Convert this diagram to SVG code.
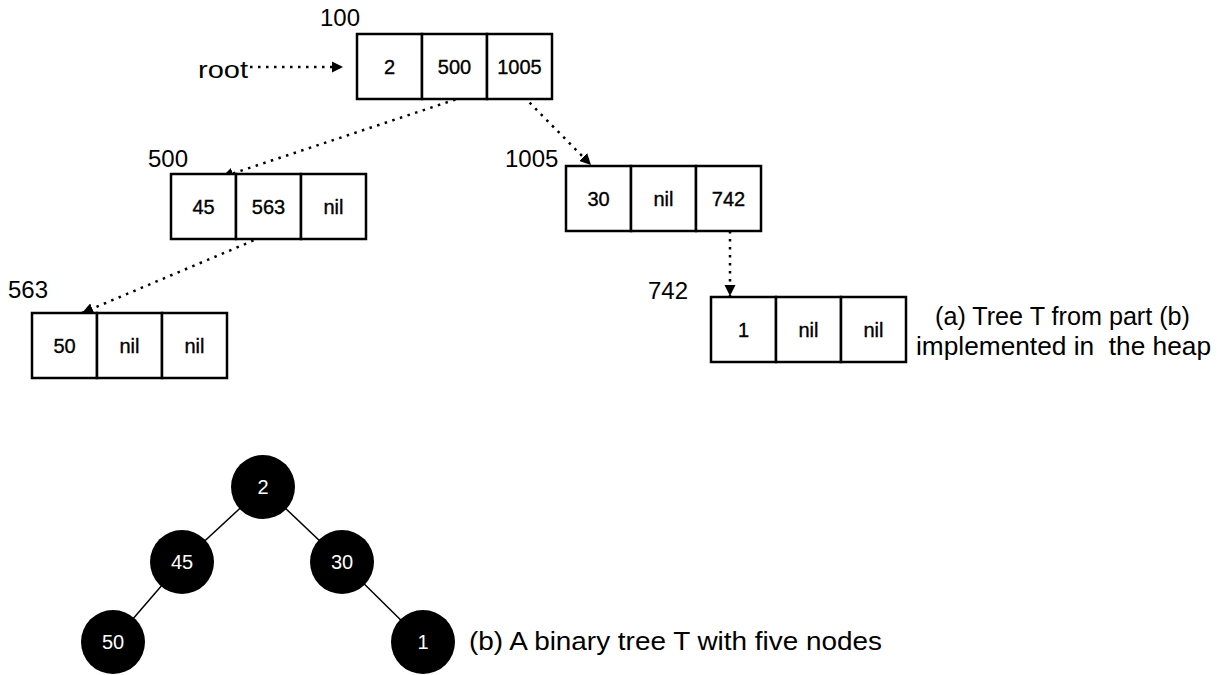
<svg xmlns="http://www.w3.org/2000/svg" width="1226" height="675" viewBox="0 0 1226 675">
<style>
.cell{fill:#fff;stroke:#000;stroke-width:2.5}
.ct{font-family:"Liberation Sans",Arial,sans-serif;font-size:20px;text-anchor:middle;dominant-baseline:central;fill:#000;stroke:#000;stroke-width:0.35}
.lbl{font-family:"Liberation Sans",Arial,sans-serif;font-size:24px;fill:#000}
.cap{font-family:"Liberation Sans",Arial,sans-serif;font-size:25px;fill:#000}
.dot{fill:none;stroke:#000;stroke-width:2.5;stroke-dasharray:2.5 5.5}
.edge{stroke:#000;stroke-width:1.5}
.circ{fill:#000}
.wt{font-family:"Liberation Sans",Arial,sans-serif;font-size:20px;fill:#fff;text-anchor:middle;dominant-baseline:central}
</style>
<defs>
<marker id="ah" viewBox="0 0 10 10" refX="10" refY="5" markerWidth="4.5" markerHeight="4.5" orient="auto" markerUnits="strokeWidth">
<path d="M0,0 L10,5 L0,10 z" fill="#000"/>
</marker>
</defs>
<rect width="1226" height="675" fill="#fff"/>

<g id="connectors">
<line class="dot" x1="250" y1="67" x2="343" y2="67" marker-end="url(#ah)"/>
<line class="dot" x1="463" y1="97" x2="222" y2="177" marker-end="url(#ah)"/>
<line class="dot" x1="524" y1="97" x2="591" y2="165" marker-end="url(#ah)"/>
<line class="dot" x1="283" y1="228" x2="82" y2="313" marker-end="url(#ah)"/>
<line class="dot" x1="730" y1="231" x2="730" y2="296" marker-end="url(#ah)"/>
<line class="edge" x1="263" y1="487" x2="182" y2="562"/>
<line class="edge" x1="263" y1="487" x2="342" y2="562"/>
<line class="edge" x1="182" y1="562" x2="113" y2="642"/>
<line class="edge" x1="342" y1="562" x2="423" y2="642"/>
</g>

<g id="root-label"><text class="lbl" x="198" y="78" font-size="26" textLength="50" lengthAdjust="spacingAndGlyphs">root</text></g>

<g id="node-100">
<text class="lbl" x="320" y="26">100</text>
<rect class="cell" x="357" y="34" width="65" height="65"/>
<rect class="cell" x="422" y="34" width="65" height="65"/>
<rect class="cell" x="487" y="34" width="65" height="65"/>
<text class="ct" x="389.5" y="66.5">2</text>
<text class="ct" x="454.5" y="66.5">500</text>
<text class="ct" x="519.5" y="66.5">1005</text>
</g>

<g id="node-500">
<text class="lbl" x="148" y="167">500</text>
<rect class="cell" x="171" y="174" width="65" height="65"/>
<rect class="cell" x="236" y="174" width="65" height="65"/>
<rect class="cell" x="301" y="174" width="65" height="65"/>
<text class="ct" x="203.5" y="206.5">45</text>
<text class="ct" x="268.5" y="206.5">563</text>
<text class="ct" x="333.5" y="206.5">nil</text>
</g>

<g id="node-563">
<text class="lbl" x="8" y="298">563</text>
<rect class="cell" x="32" y="313" width="65" height="65"/>
<rect class="cell" x="97" y="313" width="65" height="65"/>
<rect class="cell" x="162" y="313" width="65" height="65"/>
<text class="ct" x="64.5" y="345.5">50</text>
<text class="ct" x="129.5" y="345.5">nil</text>
<text class="ct" x="194.5" y="345.5">nil</text>
</g>

<g id="node-1005">
<text class="lbl" x="505" y="167">1005</text>
<rect class="cell" x="566" y="166" width="65" height="65"/>
<rect class="cell" x="631" y="166" width="65" height="65"/>
<rect class="cell" x="696" y="166" width="65" height="65"/>
<text class="ct" x="598.5" y="198.5">30</text>
<text class="ct" x="663.5" y="198.5">nil</text>
<text class="ct" x="728.5" y="198.5">742</text>
</g>

<g id="node-742">
<text class="lbl" x="648" y="299">742</text>
<rect class="cell" x="711" y="297" width="65" height="65"/>
<rect class="cell" x="776" y="297" width="65" height="65"/>
<rect class="cell" x="841" y="297" width="65" height="65"/>
<text class="ct" x="743.5" y="329.5">1</text>
<text class="ct" x="808.5" y="329.5">nil</text>
<text class="ct" x="873.5" y="329.5">nil</text>
</g>

<g id="caption-a">
<text class="cap" x="935" y="325" textLength="255" lengthAdjust="spacingAndGlyphs">(a) Tree T from part (b)</text>
<text class="cap" x="916" y="355" textLength="295" lengthAdjust="spacingAndGlyphs" xml:space="preserve">implemented in  the heap</text>
</g>

<g id="tree-2"><circle class="circ" cx="263" cy="487" r="32"/><text class="wt" x="263" y="487">2</text></g>
<g id="tree-45"><circle class="circ" cx="182" cy="562" r="32"/><text class="wt" x="182" y="562">45</text></g>
<g id="tree-30"><circle class="circ" cx="342" cy="562" r="32"/><text class="wt" x="342" y="562">30</text></g>
<g id="tree-50"><circle class="circ" cx="113" cy="642" r="32"/><text class="wt" x="113" y="642">50</text></g>
<g id="tree-1"><circle class="circ" cx="423" cy="642" r="32"/><text class="wt" x="423" y="642">1</text></g>

<g id="caption-b"><text class="cap" x="469" y="650" font-size="26" textLength="413" lengthAdjust="spacingAndGlyphs">(b) A binary tree T with five nodes</text></g>
</svg>
